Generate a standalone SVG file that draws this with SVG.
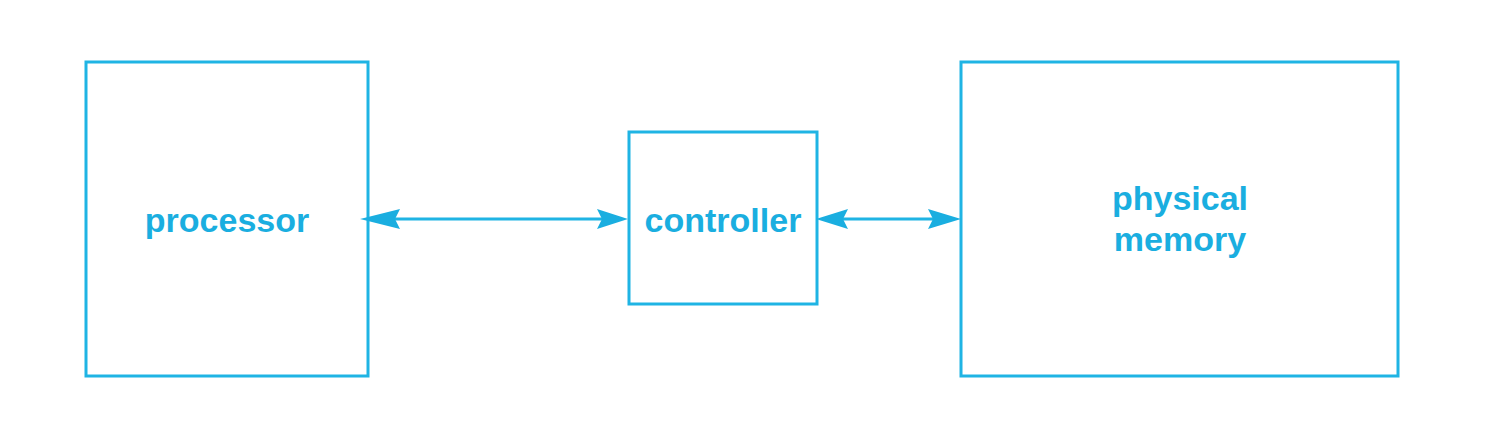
<svg xmlns="http://www.w3.org/2000/svg" width="1487" height="445" viewBox="0 0 1487 445">
<style>
.box{fill:none;stroke:#1fb4e4;stroke-width:3}
.lbl{font-family:"Liberation Sans",Arial,sans-serif;font-weight:bold;font-size:34px;fill:#1aaee0;text-anchor:middle}
.conn{stroke:#1fb4e4;stroke-width:3;fill:none}
.head{fill:#1aaee0}
</style>
<rect width="1487" height="445" fill="#ffffff"/>
<g id="processor">
<rect class="box" x="86" y="62" width="282" height="314"/>
<text class="lbl" x="227" y="232">processor</text>
</g>
<g id="controller">
<rect class="box" x="629" y="132" width="188" height="172"/>
<text class="lbl" x="723" y="232">controller</text>
</g>
<g id="physical-memory">
<rect class="box" x="961" y="62" width="437" height="314"/>
<text class="lbl" x="1180" y="210">physical</text>
<text class="lbl" x="1180" y="251">memory</text>
</g>
<g id="connectors">
<line class="conn" x1="380" y1="219" x2="610" y2="219"/>
<polygon class="head" points="360,219 400,209 395,219 400,229"/>
<polygon class="head" points="628,219 597,209 602,219 597,229"/>
<line class="conn" x1="830" y1="219" x2="945" y2="219"/>
<polygon class="head" points="816,219 848,209 843,219 848,229"/>
<polygon class="head" points="961,219 928,209 933,219 928,229"/>
</g>
</svg>
